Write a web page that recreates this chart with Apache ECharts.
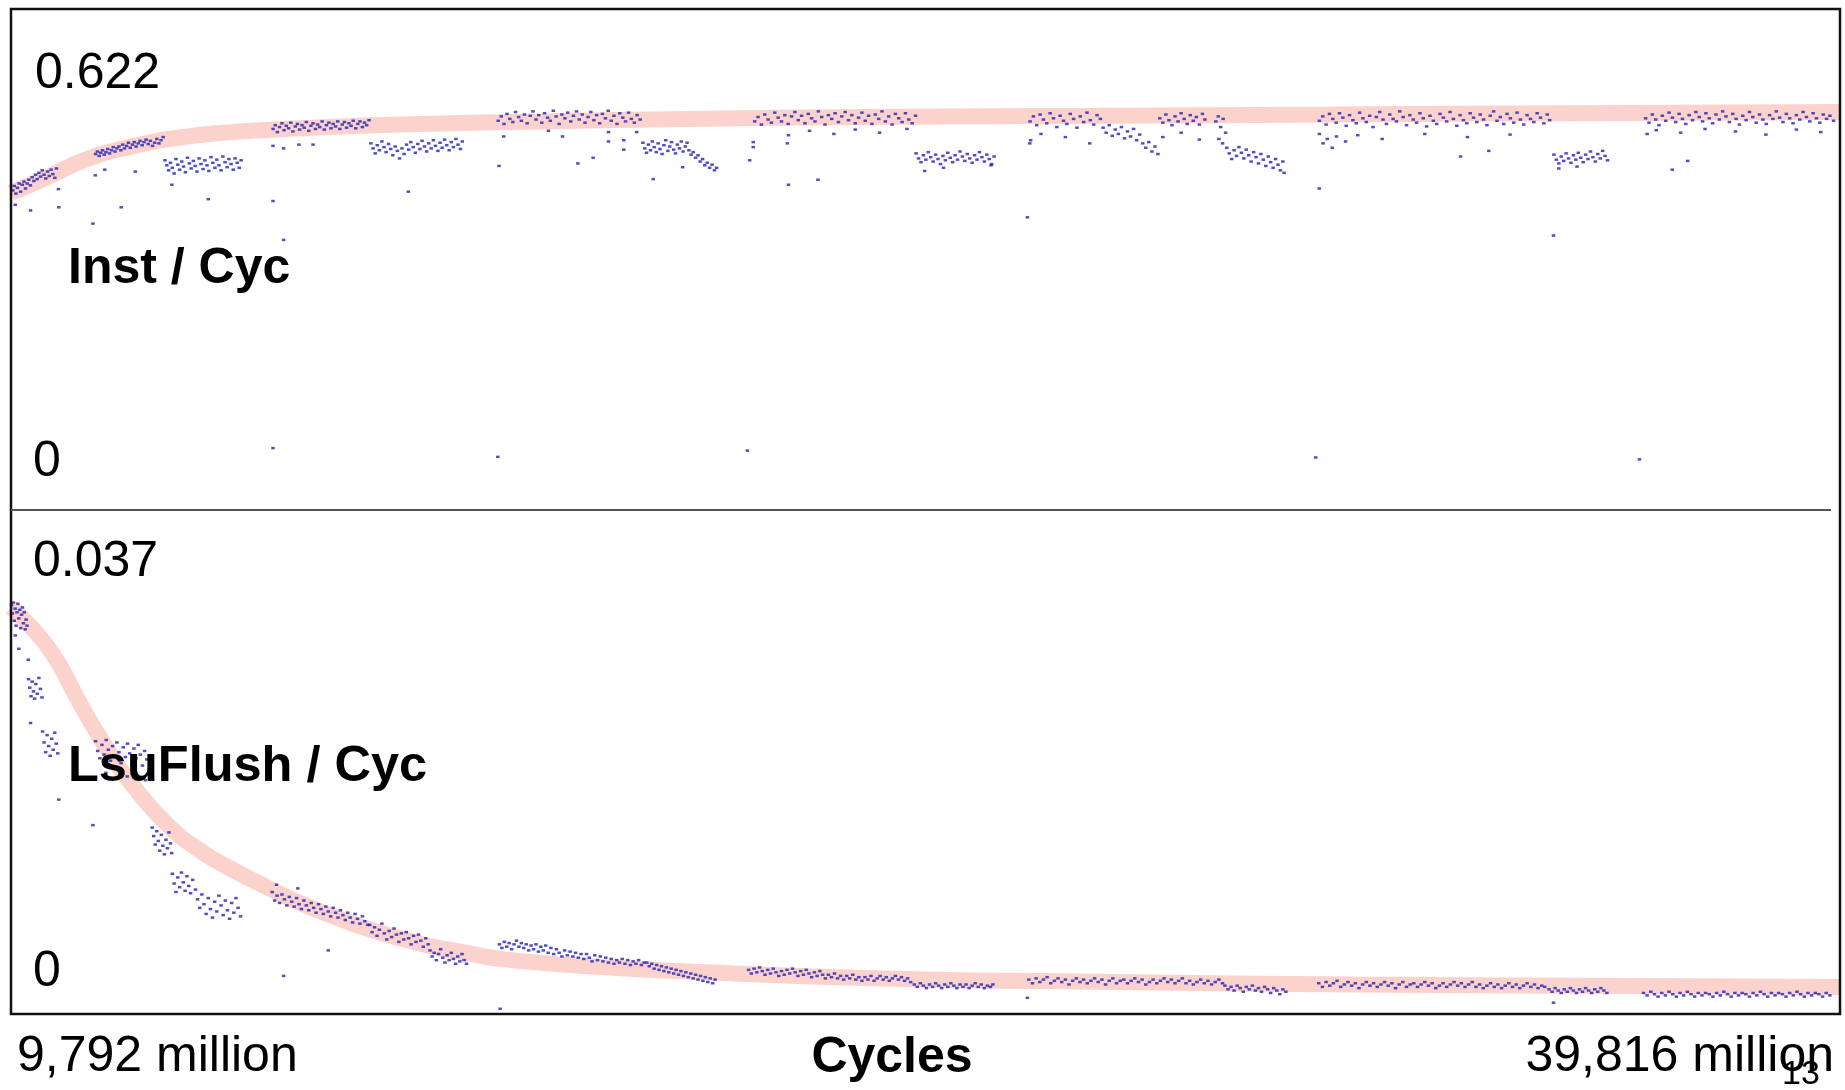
<!DOCTYPE html>
<html>
<head>
<meta charset="utf-8">
<script src="https://cdn.jsdelivr.net/npm/echarts@6/dist/echarts.min.js"></script>
<style>
html,body{margin:0;padding:0;background:#fff;}
#chart{width:1845px;height:1090px;}
</style>
</head>
<body>
<div id="chart"></div>
<script>
// ---- data (x: cycles in millions) ----
const cyclesRange = [9792, 39816];
const ipcRange = [0, 0.622];
const flushRange = [0, 0.037];
const xTickLabels = ['9,792 million', '39,816 million'];
const ipcTickLabels = ['0.622', '0'];
const flushTickLabels = ['0.037', '0'];
const xTitle = 'Cycles';
const ipcTitle = 'Inst / Cyc';
const flushTitle = 'LsuFlush / Cyc';
const pageNumber = '13';

const ipcTrend = [[9792,0.426],[10364,0.450],[11041,0.480],[11813,0.501],[12683,0.516],[13745,0.525],[15001,0.531],[16547,0.536],[18479,0.540],[20894,0.544],[23792,0.547],[27656,0.549],[31520,0.551],[35384,0.553],[39816,0.555]];

const ipcPoints = [
[9824,0.430],[9845,0.437],[9872,0.425],[9898,0.434],[9925,0.441],[9950,0.428],[9978,0.439],[10005,0.444],[10030,0.433],[10058,0.441],[10085,0.447],[10110,0.438],[10140,0.451],[10168,0.445],[10195,0.455],[10222,0.448],[10250,0.458],[10278,0.452],[10305,0.462],[10335,0.455],[10362,0.449],[10392,0.460],[10420,0.453],[10450,0.463],[10480,0.456],[10512,0.450],[10538,0.465],
[9862,0.407],[10113,0.398],[10577,0.403],[10570,0.432],
[11180,0.488],[11210,0.492],[11240,0.485],[11265,0.490],[11295,0.494],[11322,0.487],[11350,0.491],[11380,0.496],[11410,0.489],[11440,0.494],[11470,0.499],[11500,0.492],[11530,0.497],
[11565,0.500],[11595,0.494],[11625,0.503],[11655,0.497],[11690,0.501],[11720,0.506],[11750,0.498],[11785,0.503],[11815,0.507],[11845,0.500],[11880,0.505],[11910,0.509],[11945,0.502],[11975,0.507],[12010,0.511],[12045,0.504],[12080,0.509],[12115,0.501],[12150,0.506],[12185,0.512],[12220,0.505],[12255,0.510],[12290,0.515],
[11137,0.377],[11331,0.463],[11176,0.454],[11833,0.460],[11601,0.403],
[12320,0.478],[12350,0.470],[12380,0.462],[12410,0.474],[12440,0.466],[12470,0.457],[12500,0.480],[12530,0.471],[12560,0.463],[12595,0.476],[12625,0.468],[12655,0.459],[12690,0.482],[12720,0.473],[12750,0.465],[12785,0.477],[12815,0.469],[12845,0.460],[12880,0.481],[12910,0.472],[12945,0.464],[12975,0.478],[13010,0.470],[13040,0.461],[13075,0.483],[13105,0.474],[13140,0.466],[13170,0.479],[13205,0.470],[13240,0.462],[13270,0.484],[13305,0.475],[13340,0.467],[13370,0.480],[13405,0.472],[13440,0.463],[13470,0.481],[13505,0.474],[13540,0.466],[13570,0.478],
[12432,0.439],[13031,0.416],[14093,0.413],[14267,0.351],
[14095,0.528],[14130,0.534],[14165,0.523],[14200,0.531],[14240,0.537],[14275,0.526],[14310,0.533],[14350,0.529],[14385,0.538],[14420,0.524],[14460,0.532],[14495,0.536],[14530,0.527],[14570,0.534],[14605,0.530],[14640,0.539],[14680,0.525],[14715,0.533],[14750,0.537],[14790,0.528],[14825,0.535],[14860,0.531],[14900,0.540],[14935,0.527],[14970,0.534],[15010,0.538],[15045,0.529],[15080,0.536],[15120,0.532],[15155,0.540],[15190,0.528],[15230,0.535],[15265,0.539],[15300,0.530],[15340,0.537],[15375,0.533],[15410,0.541],[15450,0.529],[15485,0.536],[15520,0.540],[15560,0.531],[15595,0.538],[15630,0.534],[15670,0.542],
[14093,0.501],[14267,0.497],[14518,0.503],[14750,0.503],
[15700,0.505],[15735,0.497],[15770,0.489],[15805,0.502],[15840,0.494],[15880,0.508],[15915,0.499],[15950,0.491],[15990,0.504],[16025,0.496],[16060,0.486],[16100,0.500],[16135,0.493],[16170,0.481],[16210,0.497],[16245,0.488],[16285,0.503],[16320,0.495],[16355,0.507],[16395,0.499],[16430,0.490],[16470,0.504],[16505,0.496],[16540,0.509],[16580,0.500],[16615,0.492],[16650,0.505],[16690,0.497],[16725,0.510],[16760,0.501],[16800,0.493],[16835,0.506],[16870,0.498],[16910,0.511],[16945,0.502],[16985,0.494],[17020,0.507],[17055,0.499],[17095,0.512],[17130,0.503],[17170,0.496],[17200,0.508],
[16315,0.428],
[17790,0.541],[17840,0.548],[17885,0.536],[17935,0.552],[17980,0.544],[18030,0.539],[18075,0.555],[18125,0.547],[18170,0.541],[18220,0.551],[18265,0.537],[18315,0.549],[18360,0.556],[18410,0.543],[18455,0.550],[18505,0.538],[18550,0.553],[18600,0.546],[18645,0.541],[18695,0.557],[18740,0.548],[18790,0.536],[18835,0.551],[18885,0.545],[18930,0.554],[18980,0.540],[19025,0.549],[19075,0.556],[19120,0.543],[19170,0.551],[19215,0.538],[19265,0.547],[19310,0.555],[19360,0.542],[19405,0.550],[19455,0.537],[19500,0.552],[19550,0.545],[19595,0.557],[19645,0.541],[19690,0.549],[19740,0.536],[19785,0.553],[19835,0.546],[19880,0.540],[19930,0.554],[19975,0.544],[20025,0.538],[20070,0.550],[20120,0.543],
[17880,0.516],[17803,0.469],[18846,0.516],[19097,0.473],[19348,0.482],[19600,0.523],[19600,0.508],[19851,0.510],[19851,0.495],[20063,0.523],[18614,0.525],
[20165,0.506],[20195,0.497],[20225,0.490],[20255,0.503],[20290,0.494],[20320,0.508],[20350,0.499],[20385,0.491],[20415,0.505],[20445,0.496],[20480,0.488],[20510,0.502],[20540,0.510],[20575,0.493],[20605,0.500],[20635,0.507],[20670,0.495],[20700,0.489],[20730,0.503],[20765,0.497],[20795,0.508],[20825,0.492],[20860,0.500],[20890,0.506],[20920,0.494],[20955,0.487],[20990,0.491],[21030,0.482],[21070,0.486],[21105,0.476],[21145,0.480],[21180,0.470],[21220,0.474],[21260,0.466],[21300,0.471],[21340,0.462],[21375,0.466],
[20334,0.448],[20817,0.467],[21918,0.478],[21976,0.507],[21976,0.499],[22555,0.518],[22536,0.505],[22555,0.439],
[22000,0.540],[22055,0.547],[22110,0.535],[22165,0.551],[22220,0.543],[22275,0.538],[22330,0.554],[22385,0.546],[22440,0.540],[22495,0.550],[22550,0.536],[22605,0.548],[22660,0.555],[22715,0.542],[22770,0.549],[22825,0.537],[22880,0.552],[22935,0.545],[22990,0.540],[23045,0.556],[23100,0.547],[23155,0.535],[23210,0.550],[23265,0.544],[23320,0.553],[23375,0.539],[23430,0.548],[23485,0.555],[23540,0.542],[23595,0.550],[23650,0.537],[23705,0.546],[23760,0.554],[23815,0.541],[23870,0.549],[23925,0.536],[23980,0.551],[24035,0.544],[24090,0.556],[24145,0.540],[24200,0.548],[24255,0.535],[24310,0.552],[24365,0.545],[24420,0.539],[24475,0.553],[24530,0.543],[24585,0.537],[24640,0.549],
[22900,0.525],[23300,0.520],[23650,0.527],[24050,0.522],[24500,0.528],[23039,0.447],
[24650,0.489],[24690,0.481],[24730,0.475],[24770,0.486],[24810,0.479],[24850,0.491],[24890,0.483],[24930,0.476],[24970,0.487],[25010,0.480],[25050,0.472],[25090,0.485],[25130,0.478],[25170,0.490],[25210,0.482],[25250,0.475],[25290,0.486],[25330,0.479],[25370,0.492],[25410,0.484],[25450,0.477],[25490,0.488],[25530,0.481],[25570,0.474],[25610,0.486],[25650,0.479],[25690,0.491],[25730,0.483],[25770,0.476],[25810,0.487],[25850,0.480],[25890,0.472],[25930,0.484],
[24790,0.461],[25100,0.466],[25880,0.470],[26477,0.387],
[26520,0.540],[26575,0.548],[26630,0.534],[26685,0.551],[26740,0.543],[26795,0.537],[26850,0.553],[26905,0.545],[26960,0.531],[27015,0.549],[27070,0.541],[27125,0.536],[27180,0.552],[27235,0.544],[27290,0.530],[27345,0.548],[27400,0.539],[27455,0.554],[27510,0.542],[27565,0.535],[27620,0.550],[27675,0.544],
[26530,0.510],[26700,0.520],[27100,0.515],[27500,0.505],[26516,0.505],
[27720,0.530],[27770,0.522],[27820,0.534],[27870,0.517],[27920,0.527],[27970,0.520],[28020,0.531],[28070,0.513],[28120,0.524],[28170,0.516],[28220,0.528],[28270,0.510],[28320,0.519],[28370,0.505],[28420,0.498],[28470,0.507],[28520,0.492],[28570,0.500],[28620,0.488],
[28650,0.545],[28700,0.538],[28750,0.551],[28800,0.542],[28850,0.534],[28900,0.548],[28950,0.540],[29000,0.553],[29050,0.544],[29100,0.536],[29150,0.550],[29200,0.541],[29250,0.547],[29300,0.535],[29350,0.552],[29390,0.543],
[28700,0.515],[29000,0.522],[29300,0.511],
[29570,0.540],[29610,0.548],[29650,0.531],[29690,0.544],[29730,0.522],[29620,0.512],[29680,0.505],
[29750,0.498],[29790,0.489],[29830,0.480],[29870,0.494],[29910,0.485],[29950,0.499],[29990,0.490],[30030,0.481],[30070,0.495],[30110,0.486],[30150,0.476],[30190,0.491],[30230,0.483],[30270,0.473],[30310,0.488],[30350,0.479],[30390,0.469],[30430,0.484],[30470,0.475],[30510,0.466],[30550,0.480],[30590,0.471],[30630,0.462],[30670,0.476],[30690,0.458],
[31270,0.541],[31325,0.548],[31380,0.535],[31435,0.552],[31490,0.544],[31545,0.538],[31600,0.553],[31655,0.546],[31710,0.533],[31765,0.550],[31820,0.542],[31875,0.537],[31930,0.554],[31985,0.545],[32040,0.539],[32095,0.549],[32150,0.531],[32205,0.547],[32260,0.555],[32315,0.543],[32370,0.536],[32425,0.551],[32480,0.544],[32535,0.540],[32590,0.556],[32645,0.547],[32700,0.534],[32755,0.550],[32810,0.543],[32865,0.538],[32920,0.553],[32975,0.545],[33030,0.532],[33085,0.549],[33140,0.541],[33195,0.536],[33250,0.552],[33305,0.546],[33360,0.540],[33415,0.555],[33470,0.544],[33525,0.533],[33580,0.550],[33635,0.542],[33690,0.537],[33745,0.553],[33800,0.546],[33855,0.539],[33910,0.551],[33965,0.543],[34020,0.534],[34075,0.549],[34130,0.556],[34185,0.541],[34240,0.547],[34295,0.536],[34350,0.552],[34405,0.545],[34460,0.538],[34515,0.554],[34570,0.543],[34625,0.535],[34680,0.550],[34735,0.544],[34790,0.539],[34845,0.553],[34900,0.546],[34955,0.537],[35010,0.551],[35050,0.542],
[31270,0.520],[31330,0.505],[31400,0.512],[31480,0.498],[31550,0.516],[31700,0.508],[31900,0.518],[32300,0.512],[33000,0.520],[33700,0.515],[34400,0.519],
[31268,0.433],[37316,0.477],[37064,0.463],[33587,0.484],[34051,0.493],[35113,0.358],
[35120,0.487],[35160,0.479],[35200,0.473],[35240,0.484],[35280,0.477],[35320,0.489],[35360,0.481],[35400,0.474],[35440,0.486],[35480,0.479],[35520,0.490],[35560,0.482],[35600,0.475],[35640,0.487],[35680,0.480],[35720,0.492],[35760,0.483],[35800,0.476],[35840,0.488],[35880,0.481],[35920,0.493],[35960,0.485],[36000,0.478],
[35200,0.465],[35500,0.468],
[36625,0.545],[36680,0.538],[36735,0.551],[36790,0.543],[36845,0.534],[36900,0.549],[36955,0.541],[37010,0.554],[37065,0.546],[37120,0.539],[37175,0.552],[37230,0.544],[37285,0.536],[37340,0.550],[37395,0.542],[37450,0.555],[37505,0.547],[37560,0.540],[37615,0.553],[37670,0.545],[37725,0.537],[37780,0.551],[37835,0.543],[37890,0.556],[37945,0.548],[38000,0.539],[38055,0.552],[38110,0.544],[38165,0.535],[38220,0.549],[38275,0.542],[38330,0.555],[38385,0.547],[38440,0.538],[38495,0.551],[38550,0.543],[38605,0.536],[38660,0.550],[38715,0.544],[38770,0.556],[38825,0.546],[38880,0.539],[38935,0.552],[38990,0.545],[39045,0.537],[39100,0.550],[39155,0.543],[39210,0.555],[39265,0.547],[39320,0.540],[39375,0.553],[39430,0.545],[39485,0.538],[39540,0.551],[39595,0.544],[39650,0.549],[39710,0.541],
[36650,0.520],[36800,0.526],[37200,0.522],[37600,0.528],[38100,0.524],[38600,0.519],[39100,0.527],[39500,0.523],
[14093,0.019],[17783,0.005],[21880,0.015],[31210,0.004],[36524,0.001]
];

const flushTrend = [[9792,0.0331],[10432,0.0296],[10979,0.0247],[11417,0.0211],[11800,0.0184],[12347,0.0153],[12895,0.0131],[13442,0.0115],[13989,0.0101],[14538,0.0088],[15084,0.0077],[15631,0.0067],[16180,0.0059],[16727,0.0052],[17273,0.0047],[17822,0.0042],[19271,0.0036],[21203,0.0031],[24101,0.0026],[27965,0.0023],[31829,0.0021],[35693,0.0020],[39816,0.0019]];

const flushPoints = [
[9800,0.0333],[9815,0.0326],[9830,0.0335],[9845,0.0320],[9860,0.0330],[9875,0.0316],[9890,0.0327],[9905,0.0334],[9920,0.0322],[9935,0.0329],[9950,0.0314],[9965,0.0325],[9980,0.0331],[9995,0.0318],[10010,0.0327],[10025,0.0313],[10040,0.0321],[10055,0.0316],
[9862,0.0308],[9920,0.0297],[10075,0.0288],
[10080,0.0272],[10100,0.0265],[10120,0.0258],[10140,0.0270],[10160,0.0262],[10180,0.0256],[10200,0.0268],[10225,0.0260],[10250,0.0273],[10275,0.0264],[10300,0.0257],
[10113,0.0236],
[10310,0.0229],[10335,0.0220],[10360,0.0212],[10385,0.0226],[10410,0.0217],[10435,0.0209],[10460,0.0223],[10485,0.0214],[10510,0.0228],[10535,0.0219],[10560,0.0211],
[10577,0.0173],
[11180,0.0221],[11215,0.0213],[11250,0.0207],[11285,0.0218],[11320,0.0210],[11355,0.0222],[11390,0.0214],[11425,0.0205],[11460,0.0217],[11495,0.0209],[11530,0.0220],[11565,0.0212],[11600,0.0203],[11635,0.0216],[11670,0.0208],[11705,0.0219],[11740,0.0211],[11775,0.0202],[11810,0.0215],[11845,0.0207],[11880,0.0218],[11915,0.0210],[11950,0.0201],[11985,0.0213],[12020,0.0206],
[11350,0.0195],[11700,0.0192],[12000,0.0189],[11137,0.0152],
[12110,0.0150],[12135,0.0143],[12160,0.0136],[12185,0.0147],[12210,0.0139],[12235,0.0131],[12260,0.0144],[12285,0.0135],[12310,0.0128],[12335,0.0140],[12360,0.0133],[12385,0.0146],[12410,0.0137],[12430,0.0129],
[12440,0.0112],[12470,0.0104],[12500,0.0097],[12530,0.0109],[12560,0.0101],[12590,0.0113],[12620,0.0105],[12650,0.0098],[12680,0.0110],[12710,0.0102],[12740,0.0096],[12775,0.0107],
[12820,0.0099],[12855,0.0091],[12890,0.0084],[12925,0.0095],[12960,0.0087],[12995,0.0079],[13030,0.0092],[13065,0.0083],[13100,0.0076],[13135,0.0089],[13170,0.0081],[13205,0.0094],[13240,0.0086],[13275,0.0078],[13310,0.0090],[13345,0.0082],[13380,0.0075],[13415,0.0088],[13450,0.0080],[13485,0.0092],[13520,0.0084],[13560,0.0077],
[14267,0.0028],
[14080,0.0097],[14120,0.0090],[14160,0.0094],[14200,0.0088],[14240,0.0095],[14280,0.0091],[14320,0.0086],[14360,0.0093],[14400,0.0089],[14440,0.0085],[14480,0.0092],[14520,0.0087],[14560,0.0083],[14600,0.0090],[14640,0.0086],[14680,0.0082],[14720,0.0088],[14760,0.0084],[14800,0.0080],[14840,0.0087],[14880,0.0083],[14920,0.0079],[14960,0.0085],[15000,0.0081],[15040,0.0077],[15080,0.0084],[15120,0.0080],[15160,0.0076],[15200,0.0082],[15240,0.0078],[15280,0.0074],[15320,0.0080],[15360,0.0076],[15400,0.0072],[15440,0.0079],[15480,0.0075],[15520,0.0071],[15560,0.0077],[15600,0.0073],[15650,0.0070],
[14150,0.0103],[14500,0.0100],[15001,0.0049],
[15680,0.0070],[15720,0.0064],[15760,0.0068],[15800,0.0061],[15840,0.0066],[15880,0.0071],[15920,0.0063],[15960,0.0058],[16000,0.0065],[16040,0.0060],[16080,0.0067],[16120,0.0062],[16160,0.0056],[16200,0.0063],[16240,0.0058],[16280,0.0064],[16320,0.0059],[16360,0.0054],[16400,0.0061],[16440,0.0056],[16480,0.0062],[16520,0.0057],[16560,0.0052],[16600,0.0059],[16640,0.0054],
[16670,0.0049],[16705,0.0044],[16740,0.0047],[16775,0.0041],[16810,0.0046],[16845,0.0050],[16880,0.0043],[16915,0.0039],[16950,0.0045],[16985,0.0041],[17020,0.0047],[17055,0.0042],[17090,0.0038],[17125,0.0044],[17160,0.0040],[17195,0.0046],[17230,0.0041],[17270,0.0038],
[17810,0.0054],[17850,0.0051],[17890,0.0056],[17930,0.0052],[17970,0.0055],[18010,0.0050],[18050,0.0054],[18090,0.0057],[18130,0.0052],[18170,0.0055],[18210,0.0051],[18250,0.0054],[18290,0.0049],[18330,0.0053],[18370,0.0050],[18410,0.0054],[18450,0.0048],[18490,0.0052],[18530,0.0049],[18570,0.0053],[18610,0.0047],[18655,0.0051],[18700,0.0046],[18745,0.0050],[18790,0.0047],[18835,0.0044],[18880,0.0049],[18925,0.0045],[18970,0.0048],[19015,0.0044],[19060,0.0047],[19105,0.0043],[19150,0.0046],[19195,0.0042],[19240,0.0046],[19285,0.0043],[19330,0.0040],[19375,0.0045],[19420,0.0041],[19465,0.0044],[19510,0.0040],[19555,0.0043],[19600,0.0039],[19645,0.0042],[19690,0.0038],[19735,0.0041],[19780,0.0039],[19825,0.0042],[19870,0.0038],[19915,0.0041],[19960,0.0037],[20005,0.0040],[20050,0.0038],[20095,0.0041],[20140,0.0037],[20185,0.0039],
[20230,0.0039],[20270,0.0036],[20310,0.0038],[20350,0.0034],[20390,0.0037],[20430,0.0033],[20470,0.0036],[20510,0.0032],[20550,0.0035],[20590,0.0031],[20630,0.0034],[20670,0.0030],[20710,0.0033],[20750,0.0029],[20790,0.0032],[20830,0.0028],[20870,0.0031],[20910,0.0027],[20950,0.0030],[20990,0.0026],[21030,0.0029],[21070,0.0025],[21110,0.0028],[21150,0.0024],[21190,0.0027],[21230,0.0023],[21270,0.0026],[21310,0.0022],[21350,0.0025],
[17822,0.0001],
[21900,0.0033],[21945,0.0030],[21990,0.0034],[22035,0.0031],[22080,0.0035],[22125,0.0032],[22170,0.0029],[22215,0.0033],[22260,0.0030],[22305,0.0034],[22350,0.0031],[22395,0.0028],[22440,0.0032],[22485,0.0029],[22530,0.0033],[22575,0.0030],[22620,0.0034],[22665,0.0031],[22710,0.0028],[22755,0.0032],[22800,0.0029],[22845,0.0033],[22890,0.0030],[22935,0.0027],[22980,0.0031],[23025,0.0028],[23070,0.0032],[23115,0.0029],[23160,0.0026],[23210,0.0029],[23260,0.0027],[23310,0.0030],[23360,0.0026],[23410,0.0028],[23460,0.0025],[23510,0.0028],[23560,0.0026],[23610,0.0029],[23660,0.0025],[23710,0.0027],[23760,0.0024],[23810,0.0027],[23860,0.0025],[23910,0.0028],[23960,0.0024],[24010,0.0026],[24060,0.0028],[24110,0.0025],[24160,0.0027],[24210,0.0024],[24260,0.0026],[24310,0.0028],[24360,0.0025],[24410,0.0027],[24460,0.0024],[24510,0.0026],[24560,0.0023],
[24620,0.0021],[24670,0.0019],[24720,0.0022],[24770,0.0020],[24820,0.0018],[24870,0.0021],[24920,0.0019],[24970,0.0022],[25020,0.0020],[25070,0.0018],[25120,0.0021],[25170,0.0019],[25220,0.0022],[25270,0.0020],[25320,0.0018],[25370,0.0021],[25420,0.0019],[25470,0.0021],[25520,0.0018],[25570,0.0020],[25620,0.0022],[25670,0.0019],[25720,0.0021],[25770,0.0018],[25820,0.0020],[25870,0.0019],[25910,0.0021],
[26477,0.0010],
[26500,0.0025],[26560,0.0022],[26620,0.0026],[26680,0.0023],[26740,0.0025],[26800,0.0027],[26860,0.0022],[26920,0.0024],[26980,0.0026],[27040,0.0023],[27100,0.0025],[27160,0.0021],[27220,0.0024],[27280,0.0026],[27340,0.0023],[27400,0.0025],[27460,0.0022],[27520,0.0024],[27580,0.0026],[27640,0.0023],[27700,0.0025],[27760,0.0021],[27820,0.0024],[27880,0.0026],[27940,0.0022],[28000,0.0024],[28060,0.0025],[28120,0.0022],[28180,0.0024],[28240,0.0026],[28300,0.0023],[28360,0.0025],[28420,0.0021],[28480,0.0023],[28540,0.0025],[28600,0.0022],[28660,0.0024],[28720,0.0026],[28780,0.0023],[28840,0.0025],[28900,0.0022],[28960,0.0024],[29020,0.0026],[29080,0.0022],[29140,0.0024],[29200,0.0021],[29260,0.0023],[29320,0.0025],[29380,0.0022],[29440,0.0024],[29500,0.0021],[29560,0.0023],[29620,0.0025],[29680,0.0022],
[29720,0.0020],[29770,0.0017],[29820,0.0019],[29870,0.0016],[29920,0.0020],[29970,0.0018],[30020,0.0015],[30070,0.0019],[30120,0.0017],[30170,0.0020],[30220,0.0016],[30270,0.0018],[30320,0.0015],[30370,0.0019],[30420,0.0017],[30470,0.0014],[30520,0.0018],[30570,0.0016],[30620,0.0013],[30670,0.0017],[30720,0.0015],
[31260,0.0022],[31320,0.0019],[31380,0.0023],[31440,0.0020],[31500,0.0022],[31560,0.0024],[31620,0.0019],[31680,0.0021],[31740,0.0023],[31800,0.0020],[31860,0.0022],[31920,0.0018],[31980,0.0021],[32040,0.0023],[32100,0.0020],[32160,0.0022],[32220,0.0019],[32280,0.0021],[32340,0.0023],[32400,0.0020],[32460,0.0022],[32520,0.0018],[32580,0.0021],[32640,0.0023],[32700,0.0019],[32760,0.0021],[32820,0.0022],[32880,0.0019],[32940,0.0021],[33000,0.0023],[33060,0.0020],[33120,0.0022],[33180,0.0018],[33240,0.0020],[33300,0.0022],[33360,0.0019],[33420,0.0021],[33480,0.0023],[33540,0.0020],[33600,0.0022],[33660,0.0019],[33720,0.0021],[33780,0.0023],[33840,0.0019],[33900,0.0021],[33960,0.0018],[34020,0.0020],[34080,0.0022],[34140,0.0019],[34200,0.0021],[34260,0.0018],[34320,0.0020],[34380,0.0022],[34440,0.0019],[34500,0.0021],[34560,0.0018],[34620,0.0020],[34680,0.0022],[34740,0.0019],[34800,0.0021],[34860,0.0018],[34920,0.0020],[34970,0.0019],
[35113,0.0006],
[35040,0.0017],[35090,0.0015],[35140,0.0018],[35190,0.0016],[35240,0.0014],[35290,0.0017],[35340,0.0015],[35390,0.0018],[35440,0.0016],[35490,0.0014],[35540,0.0017],[35590,0.0015],[35640,0.0018],[35690,0.0016],[35740,0.0014],[35790,0.0017],[35840,0.0015],[35890,0.0018],[35940,0.0016],[35990,0.0014],
[36590,0.0014],[36650,0.0012],[36710,0.0015],[36770,0.0013],[36830,0.0011],[36890,0.0014],[36950,0.0012],[37010,0.0015],[37070,0.0013],[37130,0.0011],[37190,0.0014],[37250,0.0012],[37310,0.0015],[37370,0.0013],[37430,0.0011],[37490,0.0014],[37550,0.0012],[37610,0.0014],[37670,0.0013],[37730,0.0011],[37790,0.0014],[37850,0.0012],[37910,0.0015],[37970,0.0013],[38030,0.0011],[38090,0.0014],[38150,0.0012],[38210,0.0014],[38270,0.0013],[38330,0.0011],[38390,0.0014],[38450,0.0012],[38510,0.0015],[38570,0.0013],[38630,0.0011],[38690,0.0014],[38750,0.0012],[38810,0.0014],[38870,0.0013],[38930,0.0011],[38990,0.0014],[39050,0.0012],[39110,0.0015],[39170,0.0013],[39230,0.0011],[39290,0.0014],[39350,0.0012],[39410,0.0014],[39470,0.0013],[39530,0.0011],[39590,0.0014],[39650,0.0012]
];

// ---- chart ----
const FONT = '"Liberation Sans", Arial, Helvetica, sans-serif';
const DOT = '#2323b4';
const BAND = '#fcd3cc';

const chart = echarts.init(document.getElementById('chart'), null, {renderer: 'canvas'});

function txt(text, x, y, size, weight, align) {
  return {
    type: 'text', x: x, y: y, z: 100,
    style: {
      text: text, fill: '#000', fontFamily: FONT, fontSize: size,
      fontWeight: weight || 'normal', align: align || 'left', verticalAlign: 'middle'
    }
  };
}

const option = {
  animation: false,
  backgroundColor: '#ffffff',
  grid: [
    {left: 11, width: 1829, top: 70, height: 390},
    {left: 11, width: 1829, top: 560, height: 450}
  ],
  xAxis: [
    {gridIndex: 0, type: 'value', min: cyclesRange[0], max: cyclesRange[1], show: false},
    {gridIndex: 1, type: 'value', min: cyclesRange[0], max: cyclesRange[1], show: false}
  ],
  yAxis: [
    {gridIndex: 0, type: 'value', min: ipcRange[0], max: ipcRange[1], show: false},
    {gridIndex: 1, type: 'value', min: flushRange[0], max: flushRange[1], show: false}
  ],
  series: [
    {type: 'line', xAxisIndex: 0, yAxisIndex: 0, data: ipcTrend, smooth: 0.5,
     showSymbol: false, silent: true, z: 1, clip: false,
     lineStyle: {color: BAND, width: 16, cap: 'butt'}},
    {type: 'scatter', xAxisIndex: 0, yAxisIndex: 0, data: ipcPoints, symbol: 'rect', symbolSize: [3.5, 2.5],
     silent: true, z: 2, itemStyle: {color: DOT}},
    {type: 'line', xAxisIndex: 1, yAxisIndex: 1, data: flushTrend, smooth: 0.5,
     showSymbol: false, silent: true, z: 1, clip: false,
     lineStyle: {color: BAND, width: 16, cap: 'butt'}},
    {type: 'scatter', xAxisIndex: 1, yAxisIndex: 1, data: flushPoints, symbol: 'rect', symbolSize: [3.5, 2.5],
     silent: true, z: 2, itemStyle: {color: DOT}}
  ],
  graphic: [
    {type: 'rect', z: 90, shape: {x: 11, y: 9, width: 1829, height: 1005},
     style: {fill: null, stroke: '#111', lineWidth: 2.5}},
    {type: 'line', z: 90, shape: {x1: 11, y1: 510, x2: 1831, y2: 510},
     style: {stroke: '#555', lineWidth: 2}},
    txt(ipcTickLabels[0], 35, 74, 50),
    txt(ipcTitle, 68, 269, 50, 'bold'),
    txt(ipcTickLabels[1], 33, 462, 50),
    txt(flushTickLabels[0], 33, 562, 50),
    txt(flushTitle, 68, 767, 50.5, 'bold'),
    txt(flushTickLabels[1], 33, 972, 50),
    txt(xTickLabels[0], 17, 1057, 50),
    txt(xTitle, 892, 1058, 50, 'bold', 'center'),
    txt(xTickLabels[1], 1834, 1057, 50, 'normal', 'right'),
    txt(pageNumber, 1801, 1075, 34, 'normal', 'center')
  ]
};
chart.setOption(option);
</script>
</body>
</html>
